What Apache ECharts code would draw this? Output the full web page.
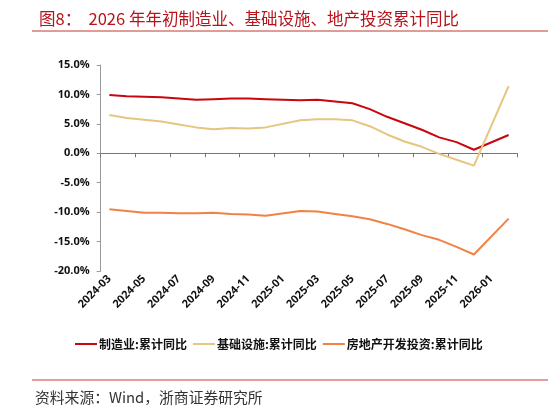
<!DOCTYPE html>
<html>
<head>
<meta charset="utf-8">
<script src="https://cdn.jsdelivr.net/npm/echarts@6/dist/echarts.min.js"></script>
<style>
  html, body { margin: 0; padding: 0; background: #fff; }
  #chart { width: 548px; height: 411px; }
</style>
</head>
<body>
<div id="chart"></div>
<script>
// months 2024-03 .. 2026-02, January has no cumulative figure (null)
var months = [
  "2024-03", "2024-04", "2024-05", "2024-06", "2024-07", "2024-08",
  "2024-09", "2024-10", "2024-11", "2024-12", "2025-01", "2025-02",
  "2025-03", "2025-04", "2025-05", "2025-06", "2025-07", "2025-08",
  "2025-09", "2025-10", "2025-11", "2025-12", "2026-01", "2026-02"
];
var manufacturing = [
  9.9, 9.7, 9.6, 9.5, 9.3, 9.1, 9.2, 9.3, 9.3, 9.2, null, 9.0,
  9.1, 8.8, 8.5, 7.5, 6.2, 5.1, 4.0, 2.7, 1.9, 0.6, null, 3.1
];
var infrastructure = [
  6.5, 6.0, 5.7, 5.4, 4.9, 4.4, 4.1, 4.3, 4.2, 4.4, null, 5.6,
  5.8, 5.8, 5.6, 4.6, 3.2, 2.0, 1.1, -0.1, -1.1, -2.1, null, 11.4
];
var realEstate = [
  -9.5, -9.8, -10.1, -10.1, -10.2, -10.2, -10.1, -10.3, -10.4, -10.6, null, -9.8,
  -9.9, -10.3, -10.7, -11.2, -12.0, -12.9, -13.9, -14.7, -15.9, -17.2, null, -11.1
];
var seriesNames = ["制造业:累计同比", "基础设施:累计同比", "房地产开发投资:累计同比"];
var colors = ["#C8060F", "#E6C57F", "#F08344"];

var chart = echarts.init(document.getElementById("chart"));

function lineSeries(name, data, color) {
  return {
    name: name,
    type: "line",
    data: data,
    xAxisIndex: 0,
    symbol: "none",
    connectNulls: true,
    lineStyle: { color: color, width: 2 },
    itemStyle: { color: color }
  };
}

var option = {
  animation: false,
  backgroundColor: "#fff",
  textStyle: { fontFamily: "'Noto Sans CJK SC', sans-serif" },
  title: {
    text: "图8：  2026 年年初制造业、基础设施、地产投资累计同比",
    left: 34,
    top: 5,
    textStyle: {
      color: "#B8121B",
      fontSize: 16.5,
      fontWeight: "normal",
      fontFamily: "'Noto Sans CJK SC', serif"
    }
  },
  graphic: [
    { type: "line", shape: { x1: 32, y1: 31, x2: 548, y2: 31 }, style: { stroke: "#C0392B", lineWidth: 1 } },
    { type: "line", shape: { x1: 32, y1: 380, x2: 548, y2: 380 }, style: { stroke: "#E07A7A", lineWidth: 1.5 } },
    {
      type: "text", left: 35, top: 390,
      style: { text: "资料来源：Wind，浙商证券研究所", fill: "#333", font: "14.8px 'Noto Sans CJK SC', serif" }
    }
  ],
  legend: {
    data: seriesNames,
    top: 333,
    left: 70,
    itemWidth: 22,
    itemHeight: 2,
    itemGap: 6,
    icon: "rect",
    textStyle: { color: "#111", fontSize: 12, fontWeight: "bold", padding: [0, 0, 0, -3] }
  },
  grid: { left: 100.7, right: 30.7, top: 65, bottom: 140 },
  xAxis: [
    {
      type: "category",
      data: months,
      position: "bottom",
      boundaryGap: true,
      axisLine: { show: false, onZero: false },
      axisTick: { show: false },
      axisLabel: {
        interval: 1,
        rotate: 45,
        color: "#111",
        fontSize: 11,
        fontWeight: "bold",
        fontFamily: "'Open Sans', sans-serif",
        margin: 6
      },
      splitLine: { show: false }
    },
    {
      type: "category",
      data: months,
      position: "bottom",
      boundaryGap: true,
      axisLine: { show: true, onZero: true, lineStyle: { color: "#777", width: 1 } },
      axisTick: { show: true, interval: 1, length: 4, lineStyle: { color: "#777" } },
      axisLabel: { show: false },
      splitLine: { show: false }
    }
  ],
  yAxis: {
    type: "value",
    min: -20,
    max: 15,
    interval: 5,
    axisLine: { show: true, lineStyle: { color: "#999", width: 1 } },
    axisTick: { show: true, length: 4, lineStyle: { color: "#999" } },
    splitLine: { show: false },
    axisLabel: {
      color: "#111",
      fontSize: 11,
      fontWeight: "bold",
      fontFamily: "'Open Sans', sans-serif",
      margin: 11,
      formatter: function (v) { return v.toFixed(1) + "%"; }
    }
  },
  series: [
    lineSeries(seriesNames[0], manufacturing, colors[0]),
    lineSeries(seriesNames[1], infrastructure, colors[1]),
    lineSeries(seriesNames[2], realEstate, colors[2])
  ]
};

chart.setOption(option);
</script>
</body>
</html>
